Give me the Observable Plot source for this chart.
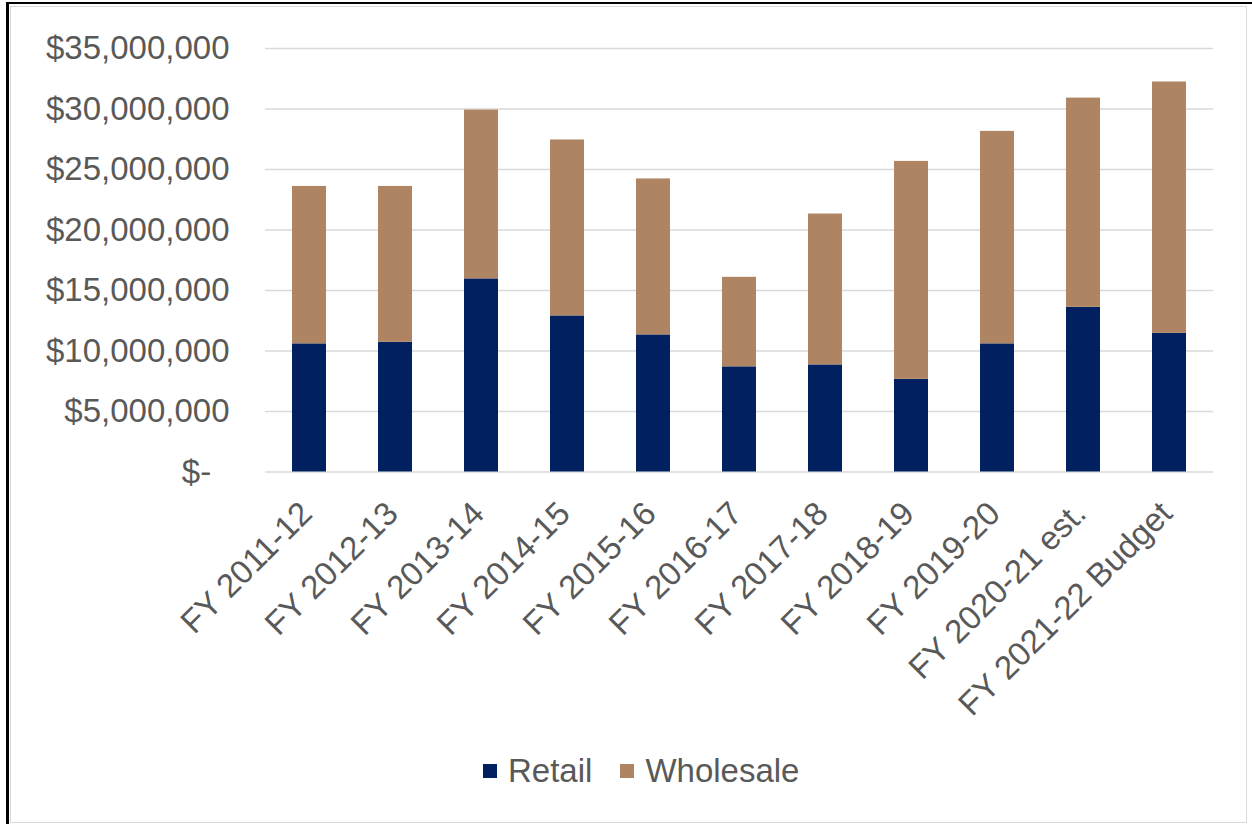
<!DOCTYPE html>
<html>
<head>
<meta charset="utf-8">
<script src="https://cdn.jsdelivr.net/npm/d3@7"></script>
<script src="https://cdn.jsdelivr.net/npm/@observablehq/plot@0.6"></script>
<style>
  html, body { margin: 0; padding: 0; background: #fff; }
  #frame { position: relative; width: 1252px; height: 824px; overflow: hidden; font-family: "Liberation Sans", Arial, sans-serif; }
  #outer { position: absolute; left: 6px; top: 2px; width: 1260px; height: 840px; border-left: 3px solid #000; border-top: 2px solid #000; box-sizing: border-box; }
  #inner { position: absolute; left: 10px; top: 6px; width: 1237px; height: 817px; border: 1px solid #d9d9d9; box-sizing: border-box; }
  #chart { position: absolute; left: 0; top: 0; }
  #legend { position: absolute; left: 483px; top: 752px; display: flex; font-size: 33px; color: #595959; white-space: nowrap; }
  .item { display: flex; align-items: center; }
  .sw { width: 14px; height: 14px; display: inline-block; margin-right: 11px; }
  .item + .item { margin-left: 28px; }
</style>
</head>
<body>
<div id="frame">
  <div id="outer"></div>
  <div id="inner"></div>
  <div id="chart"></div>
  <div id="legend"></div>
</div>
<script>
const categories = ["FY 2011-12", "FY 2012-13", "FY 2013-14", "FY 2014-15", "FY 2015-16", "FY 2016-17", "FY 2017-18", "FY 2018-19", "FY 2019-20", "FY 2020-21 est.", "FY 2021-22 Budget"];
const retail =    [10590000, 10720000, 15960000, 12900000, 11330000, 8690000, 8850000, 7660000, 10590000, 13610000, 11460000];
const wholesale = [13010000, 12880000, 13950000, 14540000, 12890000, 7400000, 12470000, 18010000, 17560000, 17290000, 20770000];
const seriesNames = ["Retail", "Wholesale"];
const seriesColors = ["#002060", "#AE8462"];
const yTicks = [0, 5000000, 10000000, 15000000, 20000000, 25000000, 30000000, 35000000];

const rows = [];
categories.forEach((c, i) => {
  rows.push({cat: c, series: "Retail", value: retail[i]});
  rows.push({cat: c, series: "Wholesale", value: wholesale[i]});
});

const fmt = v => v === 0 ? "$-\u2007" : "$" + d3.format(",")(v);

const chart = Plot.plot({
  width: 1252,
  height: 745,
  marginLeft: 265,
  marginRight: 39,
  marginTop: 48,
  marginBottom: 273.5,
  style: { fontFamily: "'Liberation Sans', Arial, sans-serif", color: "#595959", background: "transparent" },
  x: { domain: categories, paddingInner: 0.6, paddingOuter: 0.3, label: null },
  y: { domain: [0, 35000000], label: null },
  color: { domain: seriesNames, range: seriesColors },
  marks: [
    Plot.ruleY(yTicks, { stroke: "#d9d9d9", strokeWidth: 1.6 }),
    Plot.barY(rows, Plot.stackY({ x: "cat", y: "value", fill: "series", order: seriesNames })),
    Plot.axisY(yTicks, { tickSize: 0, tickPadding: 36, tickFormat: fmt, fontSize: 33, label: null, fill: "#595959" }),
    Plot.axisX({ tickSize: 0, tickRotate: -45, tickPadding: 36, dx: -3, fontSize: 33, label: null, fill: "#595959" })
  ]
});
document.getElementById("chart").appendChild(chart);

const legend = document.getElementById("legend");
seriesNames.forEach((n, i) => {
  const item = document.createElement("div");
  item.className = "item";
  const sw = document.createElement("span");
  sw.className = "sw";
  sw.style.background = seriesColors[i];
  const t = document.createElement("span");
  t.textContent = n;
  item.appendChild(sw);
  item.appendChild(t);
  legend.appendChild(item);
});
</script>
</body>
</html>
